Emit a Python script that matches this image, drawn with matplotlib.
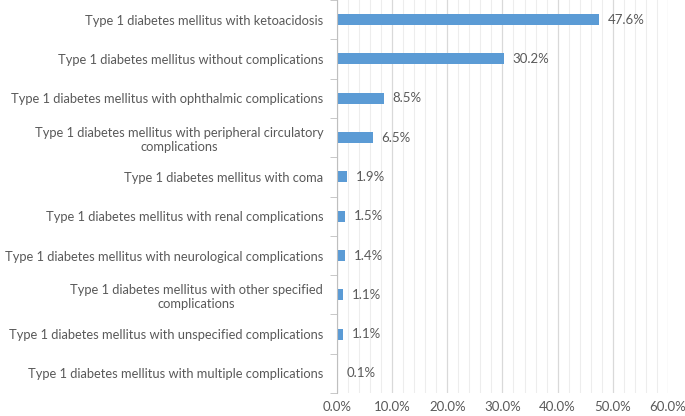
import matplotlib.pyplot as plt
from matplotlib.ticker import MultipleLocator, FuncFormatter
import numpy as np

categories = [
    "Type 1 diabetes mellitus with ketoacidosis",
    "Type 1 diabetes mellitus without complications",
    "Type 1 diabetes mellitus with ophthalmic complications",
    "Type 1 diabetes mellitus with peripheral circulatory\ncomplications",
    "Type 1 diabetes mellitus with coma",
    "Type 1 diabetes mellitus with renal complications",
    "Type 1 diabetes mellitus with neurological complications",
    "Type 1 diabetes mellitus with other specified\ncomplications",
    "Type 1 diabetes mellitus with unspecified complications",
    "Type 1 diabetes mellitus with multiple complications",
]
percent = [47.6, 30.2, 8.5, 6.5, 1.9, 1.5, 1.4, 1.1, 1.1, 0.1]

plt.rcParams['font.family'] = ['Lato', 'DejaVu Sans']
txt = '#595959'

fig = plt.figure(figsize=(6.85, 4.16), dpi=100)
ax = fig.add_axes([0.492, 0.055, 0.483, 0.945])

y = np.arange(len(categories))
ax.barh(y, percent, height=0.28, color='#5B9BD5', zorder=3)
for yi, v in zip(y, percent):
    ax.text(v + 1.6, yi, "%.1f%%" % v, va='center', ha='left',
            fontsize=9.5, color=txt)

ax.set_ylim(len(categories) - 0.5, -0.5)
ax.set_yticks(y)
ax.set_yticklabels(categories, fontsize=9.3, color=txt, ha='right',
                   multialignment='center')
ax.tick_params(axis='y', length=0, pad=10)
ax.set_yticks(np.arange(-0.5, len(categories), 1.0), minor=True)
ax.tick_params(axis='y', which='minor', length=5, color='#BFBFBF')

ax.set_xlim(0, 60)
ax.xaxis.set_major_locator(MultipleLocator(10))
ax.xaxis.set_minor_locator(MultipleLocator(2))
ax.xaxis.set_major_formatter(FuncFormatter(lambda v, p: "%.1f%%" % v))
ax.tick_params(axis='x', which='both', length=0, labelsize=9.5,
               labelcolor=txt, pad=6)
ax.grid(axis='x', which='major', color='#D9D9D9', lw=0.9, zorder=0)
ax.grid(axis='x', which='minor', color='#EDEDED', lw=0.8, zorder=0)

for s in ['top', 'right', 'bottom']:
    ax.spines[s].set_visible(False)
ax.spines['left'].set_color('#BFBFBF')
ax.spines['left'].set_zorder(4)

fig.savefig('out.png', dpi=100)
